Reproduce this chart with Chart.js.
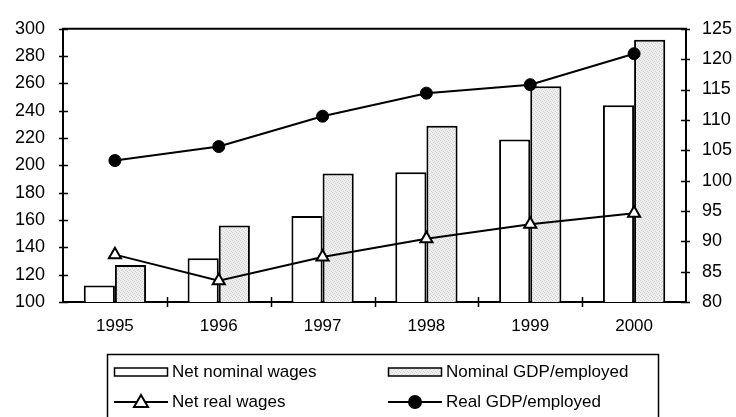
<!DOCTYPE html>
<html>
<head>
<meta charset="utf-8">
<script src="https://cdn.jsdelivr.net/npm/chart.js@4"></script>
<style>
  html, body { margin: 0; padding: 0; background: #fff; }
  #wrap { width: 736px; height: 417px; }
</style>
</head>
<body>
<div id="wrap"><canvas id="myChart" width="736" height="417"></canvas></div>
<script>
// Chart values
const years = ['1995', '1996', '1997', '1998', '1999', '2000'];
const netNominalWages = [112, 132, 163, 195, 219, 244];
const nominalGdpPerEmployed = [127, 156, 194, 229, 258, 292];
const netRealWages = [87.8, 83.5, 87.4, 90.4, 92.8, 94.6];
const realGdpPerEmployed = [103.3, 105.6, 110.6, 114.4, 115.8, 120.9];

const leftTicks = { min: 100, max: 300, step: 20 };
const rightTicks = { min: 80, max: 125, step: 5 };

const FONT = 'Liberation Sans, Arial, sans-serif';

// Stippled light grey fill for the GDP bars
function makeStipple() {
  const c = document.createElement('canvas');
  c.width = 4; c.height = 4;
  const g = c.getContext('2d');
  g.fillStyle = '#efefef';
  g.fillRect(0, 0, 4, 4);
  g.fillStyle = '#cfcfcf';
  g.fillRect(0, 0, 1, 1);
  g.fillRect(2, 1, 1, 1);
  g.fillRect(1, 2, 1, 1);
  g.fillRect(3, 3, 1, 1);
  return g.createPattern(c, 'repeat');
}

document.addEventListener('DOMContentLoaded', function() {
  const ctx = document.getElementById('myChart').getContext('2d');
  const stipple = makeStipple();

  // Ticks that cross the axis lines, plus the top frame line
  const axisDecor = {
    id: 'axisDecor',
    afterDraw(chart) {
      const c = chart.ctx;
      const area = chart.chartArea;
      const ys = chart.scales.y, y1 = chart.scales.y1, xs = chart.scales.x;
      c.save();
      c.strokeStyle = '#000';
      c.lineWidth = 2;
      c.beginPath();
      c.moveTo(area.left - 1, area.top);
      c.lineTo(area.right + 1, area.top);
      c.stroke();
      c.lineWidth = 1.5;
      c.beginPath();
      ys.ticks.forEach(t => {
        const p = Math.round(ys.getPixelForValue(t.value)) + 0.5;
        c.moveTo(area.left - 4, p); c.lineTo(area.left + 5, p);
      });
      y1.ticks.forEach(t => {
        const p = Math.round(y1.getPixelForValue(t.value)) + 0.5;
        c.moveTo(area.right - 5, p); c.lineTo(area.right + 4, p);
      });
      for (let i = 0; i < years.length - 1; i++) {
        const p = Math.round((xs.getPixelForValue(i) + xs.getPixelForValue(i + 1)) / 2) + 0.5;
        c.moveTo(p, area.bottom - 5); c.lineTo(p, area.bottom + 5);
      }
      c.stroke();
      c.restore();
    }
  };

  // Boxed two-column legend below the axis
  const boxLegend = {
    id: 'boxLegend',
    afterDraw(chart) {
      const c = chart.ctx;
      const ds = chart.data.datasets;
      c.save();
      c.strokeStyle = '#000';
      c.lineWidth = 1.5;
      c.strokeRect(107.5, 354.5, 551, 80);
      c.font = '17px ' + FONT;
      c.fillStyle = '#000';
      c.textBaseline = 'middle';
      const cols = [114, 388];
      const rows = [372, 402];
      const slots = [[0, 0], [1, 0], [0, 1], [1, 1]];
      ds.forEach((d, i) => {
        const x = cols[slots[i][0]], y = rows[slots[i][1]];
        if (d.type === 'bar') {
          c.fillStyle = d.backgroundColor;
          c.fillRect(x, y - 4, 54, 8);
          c.lineWidth = 1.5;
          c.strokeRect(x + 0.5, y - 4, 53, 8);
        } else {
          c.lineWidth = 2;
          c.beginPath();
          c.moveTo(x, y); c.lineTo(x + 54, y);
          c.stroke();
          c.fillStyle = d.pointBackgroundColor;
          c.beginPath();
          if (d.pointStyle === 'triangle') {
            c.moveTo(x + 27, y - 7);
            c.lineTo(x + 34, y + 5);
            c.lineTo(x + 20, y + 5);
            c.closePath();
          } else {
            c.arc(x + 27, y, 6, 0, Math.PI * 2);
          }
          c.fill();
          c.stroke();
        }
        c.fillStyle = '#000';
        c.fillText(d.label, x + 58, y);
      });
      c.restore();
    }
  };

  new Chart(ctx, {
    data: {
      labels: years,
      datasets: [
        {
          type: 'bar',
          label: 'Net nominal wages',
          data: netNominalWages,
          yAxisID: 'y',
          backgroundColor: '#ffffff',
          borderColor: '#000',
          borderWidth: 2,
          categoryPercentage: 0.6,
          barPercentage: 1.0,
          order: 2
        },
        {
          type: 'bar',
          label: 'Nominal GDP/employed',
          data: nominalGdpPerEmployed,
          yAxisID: 'y',
          backgroundColor: stipple,
          borderColor: '#000',
          borderWidth: 2,
          categoryPercentage: 0.6,
          barPercentage: 1.0,
          order: 2
        },
        {
          type: 'line',
          label: 'Net real wages',
          data: netRealWages,
          yAxisID: 'y1',
          borderColor: '#000',
          borderWidth: 2,
          pointStyle: 'triangle',
          pointRadius: 7,
          pointBorderWidth: 2,
          pointBackgroundColor: '#fff',
          pointBorderColor: '#000',
          tension: 0,
          order: 1
        },
        {
          type: 'line',
          label: 'Real GDP/employed',
          data: realGdpPerEmployed,
          yAxisID: 'y1',
          borderColor: '#000',
          borderWidth: 2,
          pointStyle: 'circle',
          pointRadius: 6,
          pointBorderWidth: 1,
          pointBackgroundColor: '#000',
          pointBorderColor: '#000',
          tension: 0,
          order: 1
        }
      ]
    },
    options: {
      responsive: false,
      animation: false,
      layout: { padding: { top: 24, left: 0, right: 0, bottom: 0 } },
      plugins: {
        legend: { display: false },
        tooltip: { enabled: false }
      },
      scales: {
        x: {
          offset: true,
          grid: { display: false, drawTicks: false },
          border: { display: true, color: '#000', width: 2 },
          ticks: { color: '#000', font: { family: FONT, size: 17 }, padding: 14 },
          afterFit(scale) { scale.height = 115; }
        },
        y: {
          position: 'left',
          min: leftTicks.min,
          max: leftTicks.max,
          grid: { display: false, drawTicks: false },
          border: { display: true, color: '#000', width: 2 },
          ticks: { stepSize: leftTicks.step, color: '#000', font: { family: FONT, size: 18 }, padding: 18 },
          afterFit(scale) { scale.width = 63; }
        },
        y1: {
          position: 'right',
          min: rightTicks.min,
          max: rightTicks.max,
          grid: { display: false, drawTicks: false },
          border: { display: true, color: '#000', width: 2 },
          ticks: { stepSize: rightTicks.step, color: '#000', font: { family: FONT, size: 18 }, padding: 16 },
          afterFit(scale) { scale.width = 50; }
        }
      }
    },
    plugins: [axisDecor, boxLegend]
  });
});
</script>
</body>
</html>
